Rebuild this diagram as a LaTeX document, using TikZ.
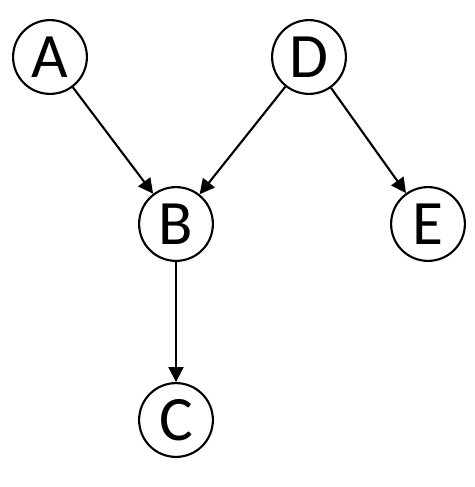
\documentclass[tikz,border=0pt]{standalone}
\usepackage{fontspec}
\setmainfont{Carlito}
\usetikzlibrary{arrows.meta}

\begin{document}
\begin{tikzpicture}[x=0.02cm, y=-0.02cm,
        vertex/.style={draw, circle, line width=1.2pt, minimum size=42pt, inner sep=0pt, font=\fontsize{36}{36}\selectfont},
        edge/.style={line width=1.2pt, -{Triangle[length=8.5pt, width=8.5pt]}}]
        \useasboundingbox (0,0) rectangle (474,487);

        \node[vertex] (A) at (50,57) {A};
        \node[vertex] (D) at (309,57) {D};
        \node[vertex] (B) at (176,224) {B};
        \node[vertex] (E) at (428,224) {E};
        \node[vertex] (C) at (176,420) {C};

        \draw[edge] (A) -- (B);
        \draw[edge] (D) -- (B);
        \draw[edge] (D) -- (E);
        \draw[edge] (B) -- (C);
    \end{tikzpicture}
\end{document}
